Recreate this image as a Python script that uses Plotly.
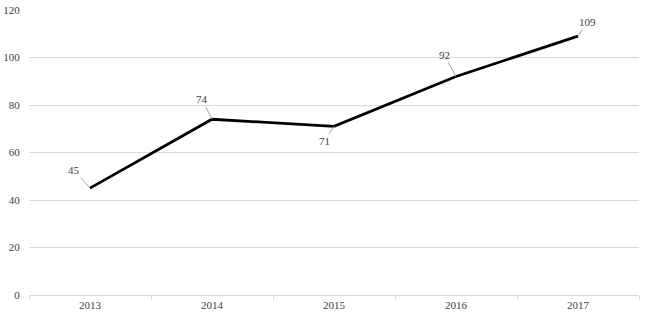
import plotly.graph_objects as go

years = [2013, 2014, 2015, 2016, 2017]
values = [45, 74, 71, 92, 109]
y_ticks = [0, 20, 40, 60, 80, 100, 120]
# label offsets (pixels) for leader-line annotations
label_dx = [-16, -10, -10, -12, 9]
label_dy = [-18, -20, 15, -22, -14]

FONT = "Times New Roman"

fig = go.Figure()
fig.add_trace(go.Scatter(
    x=years, y=values, mode="lines",
    line=dict(color="black", width=2.8),
    hoverinfo="x+y", showlegend=False,
))

for xv, yv, dx, dy in zip(years, values, label_dx, label_dy):
    fig.add_annotation(
        x=xv, y=yv, xref="x", yref="y", text=str(yv), showarrow=True,
        arrowhead=0, arrowwidth=1, arrowcolor="#a6a6a6", ax=dx, ay=dy,
        font=dict(family=FONT, size=11, color="#404040"),
    )

fig.update_layout(
    width=647, height=318,
    margin=dict(l=29, r=8, t=10, b=23, autoexpand=False),
    paper_bgcolor="white", plot_bgcolor="white",
    font=dict(family=FONT, size=11, color="#404040"),
)
fig.update_xaxes(
    type="linear", range=[2012.5, 2017.5],
    tickvals=years, ticktext=[str(y) for y in years],
    showgrid=False, showline=True, linecolor="#d9d9d9", linewidth=1,
    ticks="", zeroline=False,
    minor=dict(tickvals=[2012.5, 2013.5, 2014.5, 2015.5, 2016.5, 2017.5],
               ticks="outside", ticklen=4, tickcolor="#d9d9d9", showgrid=False),
    tickfont=dict(family=FONT, size=11, color="#404040"),
)
fig.update_yaxes(
    range=[0, 120], tickvals=y_ticks, showgrid=True, gridcolor="#d9d9d9",
    gridwidth=1, zeroline=False, showline=False,
    ticks="outside", ticklen=6, tickcolor="rgba(0,0,0,0)",
    ticklabeloverflow="allow",
    tickfont=dict(family=FONT, size=11, color="#404040"),
)

fig.write_html(
    "out.html",
    config={"displayModeBar": False},
    post_script="document.body.style.margin='0';document.body.style.padding='0';",
)
